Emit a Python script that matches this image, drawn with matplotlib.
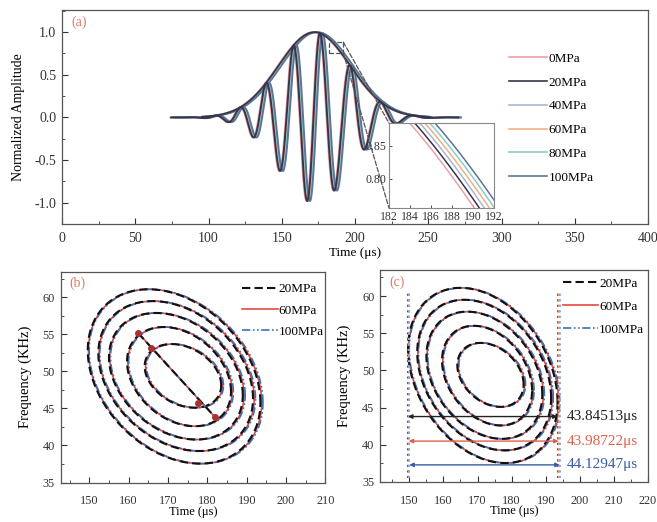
import numpy as np
import matplotlib
matplotlib.use("Agg")
import matplotlib.pyplot as plt
from matplotlib.patches import Rectangle, ConnectionPatch
from matplotlib.ticker import MultipleLocator, FormatStrFormatter
from matplotlib.lines import Line2D

plt.rcParams['font.family'] = ['Liberation Serif', 'DejaVu Serif']
plt.rcParams['axes.linewidth'] = 0.9

# ---------------- (a) received waveforms ----------------
pressures = ['0MPa', '20MPa', '40MPa', '60MPa', '80MPa', '100MPa']
pressure_colors = ['#eaa0a8', '#36364a', '#a9b5d9', '#f2b084', '#8fcaca', '#5d7597']
arrival_shift = [0.0, 0.48, 0.96, 1.44, 1.92, 2.40]          # us, relative to 0 MPa
# alternating extrema of the 0 MPa signal (first one positive), us
extremum_times = [104.0, 112.5, 121.0, 129.8, 138.6, 148.0, 157.5,
                  166.8, 175.6, 185.5, 196.3, 206.3, 217.4]
envelope_center = 171.8     # us
envelope_width = 24.5       # us (gaussian sigma)
record_start, record_end = 74.0, 270.0

# ---------------- (b),(c) time-frequency contours ----------------
contour_left = [149.8, 152.5, 155.2, 159.8, 164.3]
contour_right = [193.79, 191.9, 189.3, 186.3, 183.8]
contour_top = [61.1, 59.5, 57.9, 56.0, 53.7]
contour_bottom = [37.55, 39.25, 40.8, 42.6, 45.1]
tf_tilt = -0.3
series_labels = ['20MPa', '60MPa', '100MPa']
series_shift = [-0.25, 0.0, 0.25]                      # us
durations = [43.84513, 43.98722, 44.12947]             # us
ridge_t = [162.4, 165.8, 177.5, 182.0]
ridge_f = [55.2, 53.2, 45.8, 43.8]
arrow_f = [43.8, 40.5, 37.3]

series_styles = [dict(color='#111111', ls=(0, (4, 2)), lw=1.5),
                 dict(color='#e4493f', ls='-', lw=1.2),
                 dict(color='#3f6fb5', ls=(0, (5, 1.5, 1, 1.5, 1, 1.5)), lw=1.2)]
value_colors = ['#222222', '#e0604a', '#3a5aa8']
guide_colors = ['#555555', '#f0a080', '#8fa8d0']
panel_color = '#e07a68'


def envelope(t):
    return np.exp(-(t - envelope_center) ** 2 / (2 * envelope_width ** 2))


def carrier_phase(t):
    ext = np.asarray(extremum_times)
    k = np.arange(len(ext)) * np.pi
    ph = np.interp(t, ext, k)
    lo = t < ext[0]
    ph[lo] = (t[lo] - ext[0]) * np.pi / (ext[1] - ext[0])
    hi = t > ext[-1]
    ph[hi] = k[-1] + (t[hi] - ext[-1]) * np.pi / (ext[-1] - ext[-2])
    return ph


def signal(t):
    return envelope(t) * np.cos(carrier_phase(t))


W, H = 657, 522
fig = plt.figure(figsize=(W / 100, H / 100), dpi=100)


def box(l, t, r, b):
    return [l / W, 1 - b / H, (r - l) / W, (b - t) / H]


def style_axes(ax, fs, xpad):
    ax.tick_params(which='both', direction='in', top=False, right=False,
                   labelsize=fs, colors='#333333')
    ax.tick_params(which='major', length=4, width=0.8)
    ax.tick_params(which='minor', length=2, width=0.6)
    ax.tick_params(axis='x', pad=xpad)
    ax.tick_params(axis='y', pad=4)
    for s in ax.spines.values():
        s.set_color('#555555')


# ---- panel (a)
ax = fig.add_axes(box(62, 10, 648, 224))
t = np.linspace(record_start, record_end, 4000)
te = np.linspace(95, 250, 1500)
draw_order = [0, 2, 3, 4, 5, 1]
for i in draw_order:
    ax.plot(t + arrival_shift[i], signal(t), color=pressure_colors[i], lw=1.4,
            zorder=2 + draw_order.index(i))
    ax.plot(te + arrival_shift[i], envelope(te), color=pressure_colors[i], lw=1.3,
            zorder=2 + draw_order.index(i))
ax.set_xlim(0, 400)
ax.set_ylim(-1.25, 1.26)
ax.xaxis.set_major_locator(MultipleLocator(50))
ax.xaxis.set_minor_locator(MultipleLocator(25))
ax.yaxis.set_major_locator(MultipleLocator(0.5))
ax.yaxis.set_minor_locator(MultipleLocator(0.25))
ax.yaxis.set_major_formatter(FormatStrFormatter('%.1f'))
style_axes(ax, 10, 6)
ax.set_xlabel('Time (μs)', fontsize=9.5, labelpad=1)
ax.set_ylabel('Normalized Amplitude', fontsize=10, labelpad=7)
ax.text(0.016, 0.925, '(a)', transform=ax.transAxes, color=panel_color, fontsize=10)
handles = [Line2D([], [], color=c, lw=1.2) for c in pressure_colors]
ax.legend(handles, pressures, loc='upper left', bbox_to_anchor=(0.762, 0.80),
          frameon=False, fontsize=9.5, handlelength=2.9, handletextpad=0.15,
          labelspacing=0.87, borderpad=0, borderaxespad=0)

# zoom box and inset of the envelopes
x0, x1, y0, y1 = 182, 192, 0.756, 0.884
ax.add_patch(Rectangle((x0, y0), x1 - x0, y1 - y0, fill=False, ls='--',
                       ec='#555555', lw=0.9, zorder=10))
axi = fig.add_axes(box(389, 123, 494, 208))
te2 = np.linspace(175, 200, 600)
for col, sh in zip(pressure_colors, arrival_shift):
    axi.plot(te2 + sh, envelope(te2), color=col, lw=1.1)
axi.set_xlim(x0, x1)
axi.set_ylim(y0, y1)
axi.set_xticks(np.arange(182, 193, 2))
axi.set_yticks([0.80, 0.85])
axi.yaxis.set_major_formatter(FormatStrFormatter('%.2f'))
axi.tick_params(direction='in', length=2.5, width=0.6, labelsize=8.5, pad=2,
                colors='#333333')
for s in axi.spines.values():
    s.set_color('#888888')
    s.set_linewidth(0.8)
for xyA, xyB in [((x1, y1), (0, 1)), ((x1, y0), (0, 0))]:
    cp = ConnectionPatch(xyA=xyA, coordsA=ax.transData, xyB=xyB,
                         coordsB=axi.transAxes, ls='--', color='#555555', lw=0.9)
    fig.add_artist(cp)


# ---- time-frequency contours
def contour_curves(s):
    c_all = (contour_left[0] + contour_right[0]) / 2
    scale = durations[s] / (contour_right[0] - contour_left[0])
    phi = np.linspace(0, 2 * np.pi, 400)
    out = []
    for L, R, T, B in zip(contour_left, contour_right, contour_top, contour_bottom):
        ct, hw = (L + R) / 2, (R - L) / 2
        cf, hh = (T + B) / 2, (T - B) / 2
        tt = ct + hw * np.cos(phi)
        ff = cf + hh * (tf_tilt * np.cos(phi) + np.sqrt(1 - tf_tilt ** 2) * np.sin(phi))
        tt = c_all + series_shift[s] + (tt - c_all) * scale
        out.append((tt, ff))
    return out, c_all


def tf_panel(rect, xlim, xmax_tick, label):
    a = fig.add_axes(rect)
    for s in [1, 2, 0]:
        curves, _ = contour_curves(s)
        for tt, ff in curves:
            a.plot(tt, ff, **series_styles[s])
    a.set_xlim(*xlim)
    a.set_ylim(35, 63.5)
    a.set_xticks(np.arange(150, xmax_tick + 1, 10))
    a.xaxis.set_minor_locator(MultipleLocator(5))
    a.yaxis.set_major_locator(MultipleLocator(5))
    a.yaxis.set_minor_locator(MultipleLocator(2.5))
    style_axes(a, 8.8, 9)
    a.set_xlabel('Time (μs)', fontsize=9, labelpad=-1)
    a.set_ylabel('Frequency (KHz)', fontsize=10.5, labelpad=8)
    a.text(0.035, 0.925, label, transform=a.transAxes, color=panel_color, fontsize=10)
    hs = [Line2D([], [], **series_styles[s]) for s in range(3)]
    return a, hs


# panel (b)
axb, hs = tf_panel(box(60.5, 271.5, 325.5, 482.5), (142.7, 209.7), 210, '(b)')
for s in [1, 2, 0]:
    axb.plot([ridge_t[0], ridge_t[-1]], [ridge_f[0], ridge_f[-1]], **series_styles[s])
axb.plot(ridge_t, ridge_f, ls='none', marker='o', ms=4, color='#a83232')
axb.legend(hs, series_labels, loc='upper left', bbox_to_anchor=(0.685, 0.945),
           frameon=False, fontsize=9.5, handlelength=2.7, handletextpad=0.05,
           labelspacing=0.68, borderpad=0, borderaxespad=0)

# panel (c)
axc, hs = tf_panel(box(380, 270, 648, 482), (141.4, 220), 220, '(c)')
_, c_all = contour_curves(0)
for s in range(3):
    start = c_all + series_shift[s] - durations[s] / 2
    end = start + durations[s]
    for xv in (start, end):
        axc.plot([xv, xv], [35.5, 60.5], color=guide_colors[s], ls=':', lw=1.5)
    axc.annotate('', xy=(end, arrow_f[s]), xytext=(start, arrow_f[s]),
                 arrowprops=dict(arrowstyle='<|-|>', color=value_colors[s], lw=1.0,
                                 mutation_scale=6, shrinkA=0, shrinkB=0))
    axc.text(196.3, arrow_f[s], f'{durations[s]:.5f}μs', color=value_colors[s],
             fontsize=11, va='center', ha='left')
axc.legend(hs, series_labels, loc='upper left', bbox_to_anchor=(0.682, 0.965),
           frameon=False, fontsize=9.5, handlelength=2.7, handletextpad=0.05,
           labelspacing=0.82, borderpad=0, borderaxespad=0)

fig.savefig('out.png', dpi=100)
